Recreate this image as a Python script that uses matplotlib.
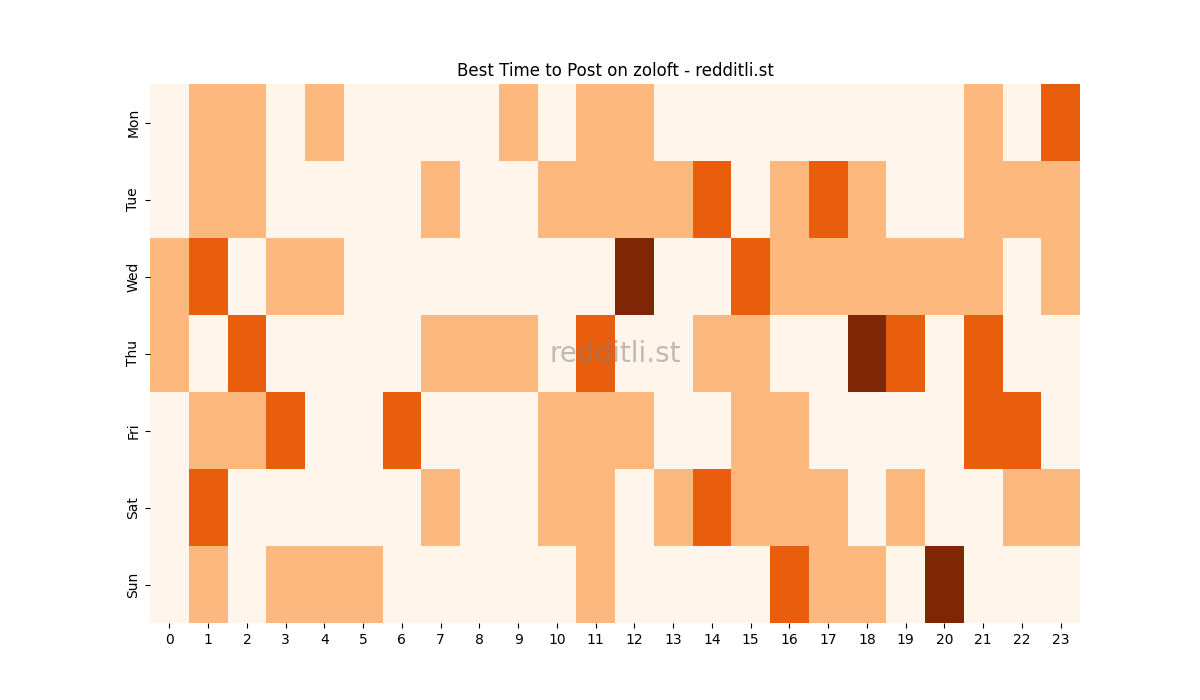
import matplotlib
matplotlib.use("Agg")
import matplotlib.pyplot as plt
import seaborn as sns
import numpy as np

days = ["Mon", "Tue", "Wed", "Thu", "Fri", "Sat", "Sun"]
hours = list(range(24))

mon = [0, 1, 1, 0, 1, 0, 0, 0, 0, 1, 0, 1, 1, 0, 0, 0, 0, 0, 0, 0, 0, 1, 0, 2]
tue = [0, 1, 1, 0, 0, 0, 0, 1, 0, 0, 1, 1, 1, 1, 2, 0, 1, 2, 1, 0, 0, 1, 1, 1]
wed = [1, 2, 0, 1, 1, 0, 0, 0, 0, 0, 0, 0, 3, 0, 0, 2, 1, 1, 1, 1, 1, 1, 0, 1]
thu = [1, 0, 2, 0, 0, 0, 0, 1, 1, 1, 0, 2, 0, 0, 1, 1, 0, 0, 3, 2, 0, 2, 0, 0]
fri = [0, 1, 1, 2, 0, 0, 2, 0, 0, 0, 1, 1, 1, 0, 0, 1, 1, 0, 0, 0, 0, 2, 2, 0]
sat = [0, 2, 0, 0, 0, 0, 0, 1, 0, 0, 1, 1, 0, 1, 2, 1, 1, 1, 0, 1, 0, 0, 1, 1]
sun = [0, 1, 0, 1, 1, 1, 0, 0, 0, 0, 0, 1, 0, 0, 0, 0, 2, 1, 1, 0, 3, 0, 0, 0]

data = np.array([mon, tue, wed, thu, fri, sat, sun])

fig, ax = plt.subplots(figsize=(12, 7), dpi=100)
sns.heatmap(data, cmap="Oranges", vmin=0, vmax=3, cbar=False,
            xticklabels=hours, yticklabels=days, ax=ax)
ax.set_title("Best Time to Post on zoloft - redditli.st")
ax.text(0.5, 0.5, "redditli.st", transform=ax.transAxes, ha="center", va="center",
        fontsize=20, color="gray", alpha=0.5)
fig.savefig("out.png", dpi=100)
